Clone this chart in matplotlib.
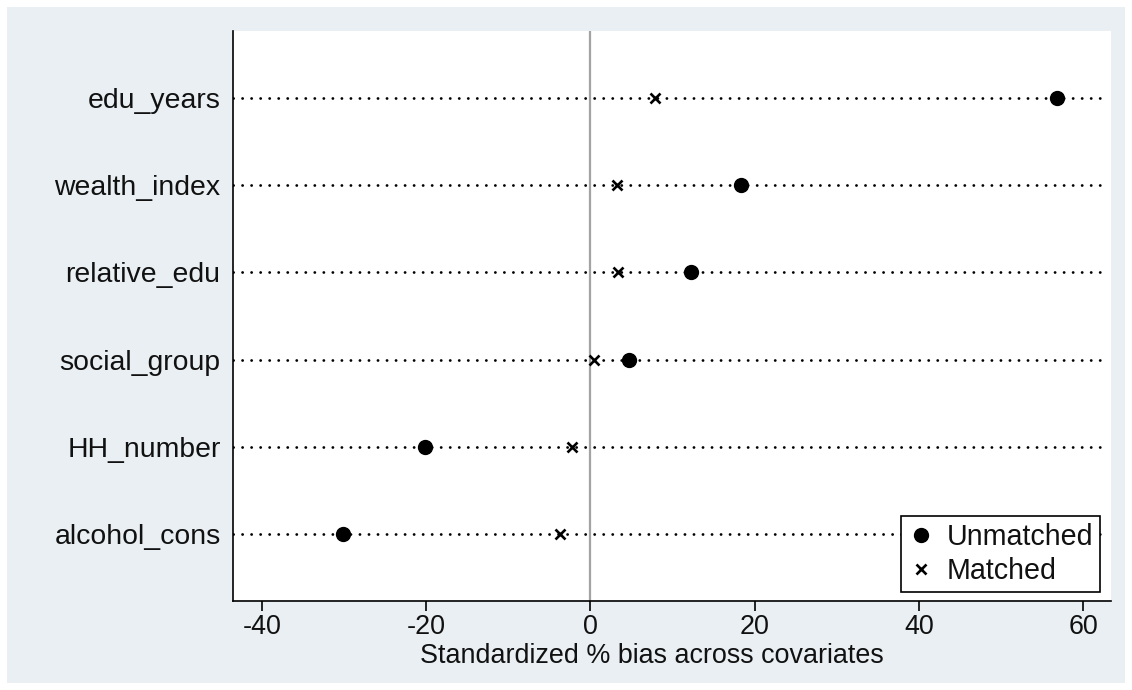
import matplotlib
matplotlib.use("Agg")
import matplotlib.pyplot as plt
from matplotlib.patches import Rectangle

plt.rcParams["font.family"] = ["Liberation Sans", "DejaVu Sans"]

# Covariates, listed bottom to top as drawn on the y axis
covariates = ["alcohol_cons", "HH_number", "social_group",
              "relative_edu", "wealth_index", "edu_years"]
bias_unmatched = [-30.1, -20.1, 4.7, 12.3, 18.3, 56.8]
bias_matched = [-3.7, -2.2, 0.5, 3.4, 3.2, 7.9]
x_ticks = [-40, -20, 0, 20, 40, 60]

FS_Y = 20.4
FS_X = 19.4
FS_LEG = 20.6
W, H = 1132, 690
fig = plt.figure(figsize=(W / 100, H / 100), dpi=100)
fig.patch.set_facecolor("white")

# light bluish-grey graph region inside a thin white border
fig.patches.append(Rectangle((7 / W, 7 / H), (W - 14) / W, (H - 14) / H,
                             transform=fig.transFigure, facecolor="#e9eff2",
                             edgecolor="none", zorder=-10))

ax = fig.add_axes([233 / W, 1 - 601 / H, (1111 - 233) / W, (601 - 31) / H])
ax.set_zorder(1)
ax.set_facecolor("white")

ypos = list(range(1, len(covariates) + 1))
ax.set_xlim(-43.5, 63.4)
ax.set_ylim(0.232, 6.768)

# dotted guide line for each covariate (round dots)
for y in ypos:
    ax.axhline(y, xmin=0, xmax=0.992, color="black", lw=2.0,
               linestyle=(0, (0.05, 3.2)), dash_capstyle="round", zorder=1)

# zero reference line
ax.axvline(0, color="#a3a3a3", lw=1.6, zorder=1.5)

ax.plot(bias_unmatched, ypos, linestyle="none", marker="o", ms=10,
        color="black", zorder=3, label="Unmatched")
ax.plot(bias_matched, ypos, linestyle="none", marker="x", ms=6.8, mew=1.9,
        color="black", zorder=3, label="Matched")

ax.set_yticks(ypos)
ax.set_yticklabels(covariates)
ax.set_xticks(x_ticks)
ax.set_xticklabels([str(t) for t in x_ticks])

ax.tick_params(axis="y", length=0, pad=9, labelsize=FS_Y, colors="#111111")
ax.tick_params(axis="x", length=7, width=1.2, pad=2, labelsize=FS_X,
               colors="#111111")
ax.tick_params(axis="x", color="black")

for side in ("top", "right"):
    ax.spines[side].set_visible(False)
for side in ("left", "bottom"):
    ax.spines[side].set_linewidth(1.2)
    ax.spines[side].set_color("black")

fig.text(652 / W, 1 - 663 / H, "Standardized % bias across covariates",
         ha="center", va="baseline", fontsize=FS_X, color="#111111")

leg = ax.legend(loc="lower right", bbox_to_anchor=(0.9875, 0.0158),
                borderaxespad=0, fontsize=FS_LEG, frameon=True, fancybox=False,
                edgecolor="black", facecolor="white", framealpha=1,
                handlelength=0.9, handletextpad=0.45, labelspacing=0.2,
                borderpad=0.25)
leg.get_frame().set_linewidth(1.2)
for t in leg.get_texts():
    t.set_color("#111111")

fig.savefig("out.png", dpi=100, facecolor=fig.get_facecolor())
